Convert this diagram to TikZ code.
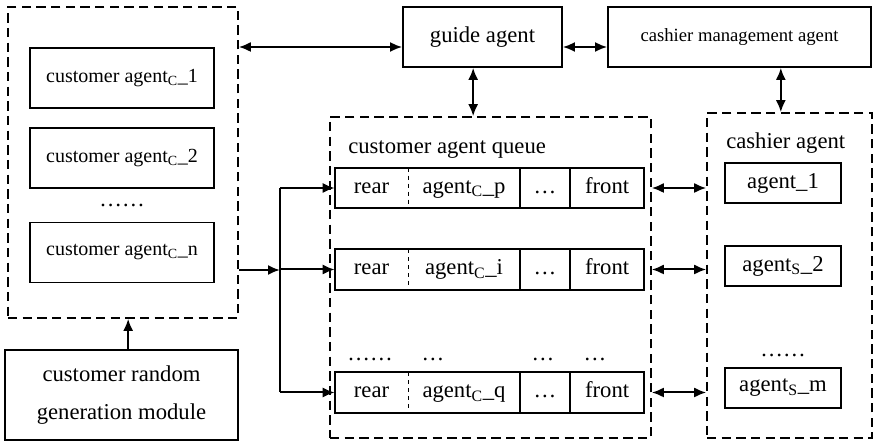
\documentclass[tikz,border=0pt]{standalone}
\usepackage{fontspec}
\setmainfont{Liberation Serif}
\usetikzlibrary{arrows.meta,positioning,calc}

\begin{document}
\begin{tikzpicture}[
    x=0.75pt, y=-0.75pt,
    node distance=0pt,
    box/.style={rectangle, draw, line width=1.3pt, inner sep=0pt, align=center, font=\fontsize{17}{28}\selectfont},
    group/.style={rectangle, draw, dash pattern=on 7pt off 4pt, line width=1.2pt, inner sep=0pt},
    cell/.style={rectangle, inner sep=0pt, minimum height=30pt, text height=11.5pt, text depth=3.5pt, font=\fontsize{17}{20}\selectfont},
    label/.style={inner sep=0pt, text height=11.5pt, text depth=3.5pt, font=\fontsize{17}{20}\selectfont},
    biarrow/.style={{Latex[length=9pt,width=7.5pt]}-{Latex[length=9pt,width=7.5pt]}, line width=1.5pt},
    arrow/.style={-{Latex[length=9pt,width=7.5pt]}, line width=1.5pt}
]
    \useasboundingbox (0,0) rectangle (876,441);

    % customer agents
    \node[group, minimum width=172.5pt, minimum height=233.25pt] (clients) at (123,162.5) {};
    \node[box, minimum width=138pt, minimum height=45pt, font=\fontsize{15}{18}\selectfont] (cust1) at (122,78) {customer agent\textsubscript{C}\_1};
    \node[box, minimum width=138pt, minimum height=45pt, font=\fontsize{15}{18}\selectfont] (cust2) at (122,158) {customer agent\textsubscript{C}\_2};
    \node[label] (custdots) at (122,201) {……};
    \node[box, minimum width=138pt, minimum height=45pt, font=\fontsize{15}{18}\selectfont] (custn) at (122,252.5) {customer agent\textsubscript{C}\_n};
    \node[box, minimum width=174.75pt, minimum height=67.5pt] (random) at (121.5,395) {customer random\\generation module};

    % top row
    \node[box, minimum width=119.25pt, minimum height=45pt] (guide) at (482.5,37) {guide agent};
    \node[box, minimum width=197.25pt, minimum height=45pt, font=\fontsize{14}{17}\selectfont] (mgmt) at (739.5,37) {cashier management agent};

    % queue
    \node[group, minimum width=240.75pt, minimum height=240.75pt] (queue) at (490.5,277.5) {};
    \node[label, anchor=west] (queuetitle) at (348,148) {customer agent queue};
    \foreach \q/\y in {p/188, i/269.5, q/392.5} {
        \node[cell, minimum width=54.75pt] (rear\q) at (371.5,\y) {rear};
        \node[cell, minimum width=83.25pt, right=of rear\q] (agent\q) {agent\textsubscript{C}\_\q};
        \node[cell, minimum width=37.5pt, right=of agent\q] (dots\q) {…};
        \node[cell, minimum width=54.75pt, right=of dots\q] (front\q) {front};
        \draw[line width=1.3pt] (rear\q.north west) rectangle (front\q.south east);
        \draw[dashed, line width=0.9pt] (rear\q.north east) -- (rear\q.south east);
        \draw[line width=1.3pt] (agent\q.north east) -- (agent\q.south east);
        \draw[line width=1.3pt] (dots\q.north east) -- (dots\q.south east);
    }
    \node[label] (gap1) at (370,355) {……};
    \node[label] (gap2) at (433,355) {…};
    \node[label] (gap3) at (543,355) {…};
    \node[label] (gap4) at (595,355) {…};

    % cashiers
    \node[group, minimum width=123.75pt, minimum height=243.75pt] (cashiers) at (789.5,275.5) {};
    \node[label, anchor=west] (cashtitle) at (726,143) {cashier agent};
    \node[box, minimum width=87pt, minimum height=30pt] (cash1) at (783,183) {agent\_1};
    \node[box, minimum width=87pt, minimum height=30pt] (cash2) at (783,266) {agent\textsubscript{S}\_2};
    \node[label] (cashdots) at (783,351) {……};
    \node[box, minimum width=87pt, minimum height=30pt] (cashm) at (783,388) {agent\textsubscript{S}\_m};

    % connectors
    \coordinate (link) at (0,47);
    \coordinate (split) at (280,270);
    \draw[biarrow] (clients.east |- link) -- (guide.west |- link);
    \draw[biarrow] (guide.east |- link) -- (mgmt.west |- link);
    \draw[biarrow] ([xshift=-7pt]guide.south) -- ([xshift=-7pt]guide.south |- queue.north);
    \draw[biarrow] ([xshift=31pt]mgmt.south) -- ([xshift=31pt]mgmt.south |- cashiers.north);
    \draw[arrow] ([xshift=5pt]random.north) -- ([xshift=5pt]random.north |- clients.south);
    \draw[arrow] (clients.east |- split) -- (split);
    \draw[line width=1.3pt] (split |- rearp.west) -- (split |- rearq.west);
    \foreach \q in {p, i, q} {
        \draw[arrow] (split |- rear\q.west) -- (rear\q.west);
        \draw[biarrow] (queue.east |- front\q.east) -- (cashiers.west |- front\q.east);
    }
\end{tikzpicture}
\end{document}
